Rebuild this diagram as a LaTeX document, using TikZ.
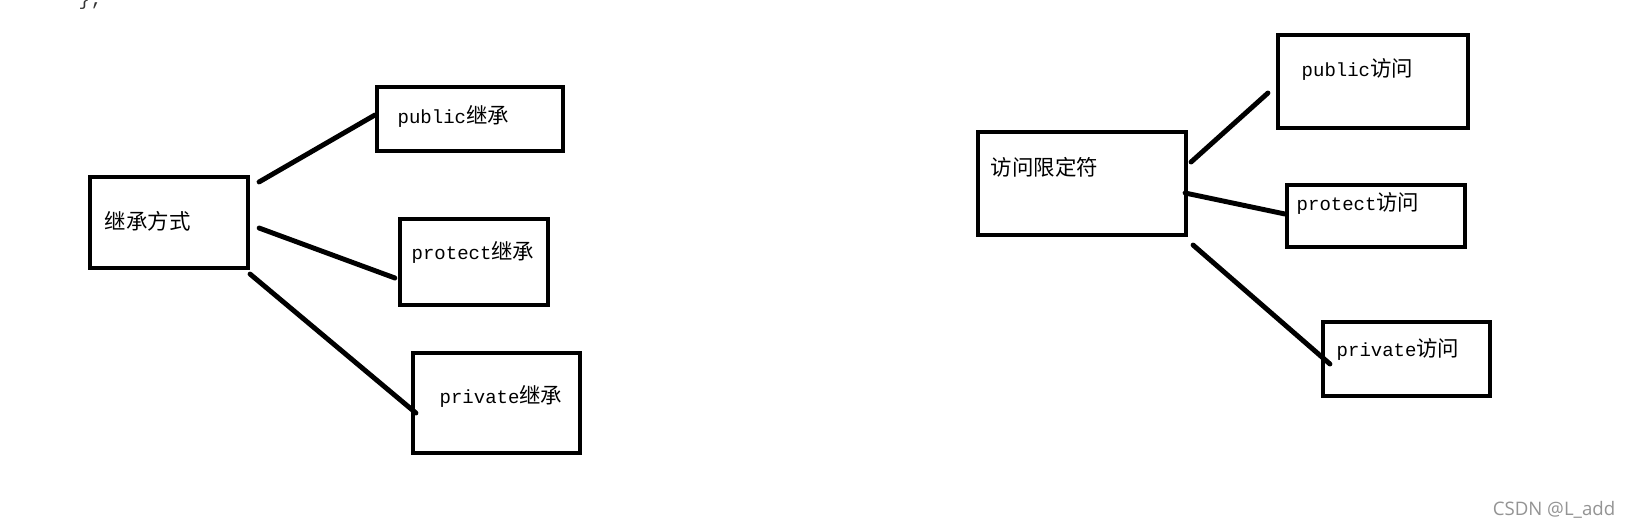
\documentclass[tikz,border=0pt]{standalone}
\usepackage{fontspec}
\setmainfont{Liberation Mono}
\newfontfamily\cjk{Noto Sans CJK SC}
\newfontfamily\wmfont{Open Sans}
\usetikzlibrary{calc}
\newcommand\zh[1]{{\cjk\fontsize{6.1}{7}\selectfont #1}}

\begin{document}
\begin{tikzpicture}[
    x=0.01cm, y=-0.01cm,
    box/.style={draw, rectangle, line width=1.15pt, inner sep=0pt},
    link/.style={line width=1.4pt, line cap=round},
    txt/.style={anchor=west, inner sep=0pt, font=\fontsize{5.4}{6}\selectfont},
  ]
  \useasboundingbox[fill=white] (0,0) rectangle (1630,530);

  % code left over at the top
  \node[txt, anchor=base west, text=black!80] (tail) at (78,5) {\};};

  % Boxes, left
  \node[box, minimum width=1.58cm, minimum height=0.91cm] (JC) at (169,222.5) {};
  \node[box, minimum width=1.86cm, minimum height=0.64cm] (pubJ) at (470,119) {};
  \node[box, minimum width=1.48cm, minimum height=0.86cm] (protJ) at (474,262) {};
  \node[box, minimum width=1.67cm, minimum height=1.00cm] (privJ) at (496.5,403) {};

  % Boxes, right
  \node[box, minimum width=2.08cm, minimum height=1.03cm] (FW) at (1082,183.5) {};
  \node[box, minimum width=1.90cm, minimum height=0.93cm] (pubF) at (1373,81.5) {};
  \node[box, minimum width=1.78cm, minimum height=0.62cm] (protF) at (1376,216) {};
  \node[box, minimum width=1.67cm, minimum height=0.74cm] (privF) at (1406.5,359) {};

  % Texts
  \node[txt] (JCt) at (104,221) {\zh{继承方式}};
  \node[txt] (pubJt) at (397,116) {public\zh{继承}};
  \node[txt] (protJt) at (411,252) {protect\zh{继承}};
  \node[txt] (privJt) at (439,396) {private\zh{继承}};
  \node[txt] (FWt) at (990,167) {\zh{访问限定符}};
  \node[txt] (pubFt) at (1301,69) {public\zh{访问}};
  \node[txt] (protFt) at (1296,203) {protect\zh{访问}};
  \node[txt] (privFt) at (1336,349) {private\zh{访问}};

  % Lines, left
  \draw[link] ($(JC.north east)+(9,7)$) -- ($(pubJ.west)+(0,-4)$);
  \draw[link] ($(JC.east)+(9,5.5)$) -- ($(protJ.west)+(-3,16)$);
  \draw[link] ($(JC.south east)+(0,4)$) -- ($(privJ.west)+(5,10)$);

  % Lines, right
  \draw[link] ($(FW.east)+(3,-21.5)$) -- ($(pubF.west)+(-8,11.5)$);
  \draw[link] ($(FW.east)+(-3,9.5)$) -- ($(protF.west)+(0,-2)$);
  \draw[link] ($(FW.south east)+(5,8)$) -- ($(privF.west)+(9,5)$);

  % watermark
  \node[inner sep=0pt, text=black!42, font=\wmfont\fontsize{5.3}{6}\selectfont] (wm) at (1554,510) {CSDN @L\_add};
\end{tikzpicture}
\end{document}
